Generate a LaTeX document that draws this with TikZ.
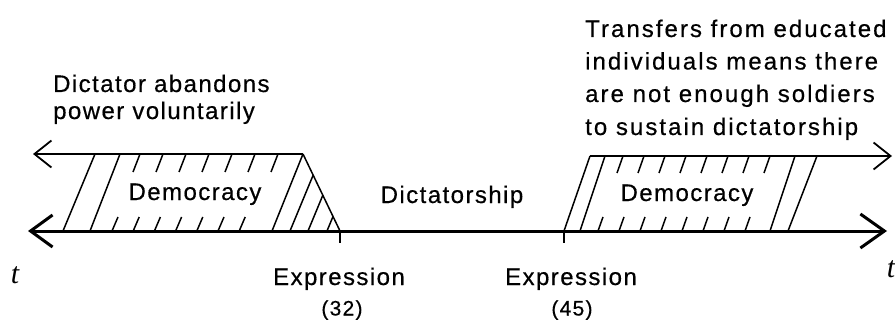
\documentclass[tikz,border=0pt]{standalone}
\usepackage{fontspec}
\setmainfont{Liberation Sans}[LetterSpace=6,FakeBold=0.5]
\newfontfamily\tfont{Liberation Serif}
\usetikzlibrary{arrows.meta}
\begin{document}
\begin{tikzpicture}[x=1pt,y=-1pt,
  lbl/.style={inner sep=0pt, font=\fontsize{24}{29}\selectfont},
  rlbl/.style={inner sep=0pt, font=\fontsize{24}{29}\selectfont\addfontfeature{LetterSpace=8.5}},
  small/.style={inner sep=0pt, font=\fontsize{21}{24}\selectfont},
  tlab/.style={inner sep=0pt, font=\fontsize{30}{32}\selectfont\tfont\itshape},
  axis/.style={line width=3pt, {Straight Barb[length=22pt,width=32pt]}-{Straight Barb[length=24pt,width=34pt]}},
  topline/.style={line width=1.8pt, -{Straight Barb[length=17pt,width=27pt]}},
  hatch/.style={line width=1.5pt},
  tickmark/.style={line width=1.6pt}]
\useasboundingbox (0,0) rectangle (895,321);

% coordinates
\coordinate (AL) at (28,231);
\coordinate (AR) at (887,231);
\coordinate (TLs) at (303,154);
\coordinate (TLe) at (33,154);
\coordinate (TRs) at (590,156);
\coordinate (TRe) at (892,156);
\coordinate (X32) at (340,231);
\coordinate (X45) at (564,231);

% hatching, left democracy
\draw[hatch] (63,231) -- (95,154);
\draw[hatch] (90,231) -- (120,154);
\draw[hatch] (272,231) -- (TLs);
\draw[hatch] (290,231) -- (313.2,175);
\draw[hatch] (308,231) -- (322.8,195.3);
\draw[hatch] (327,231) -- (333,216.5);
\foreach \x in {140,163,...,278} \draw[hatch] (\x,154) -- ++(-7,18);
\foreach \x in {118,139.2,...,246} \draw[hatch] (\x,217) -- ++(-6,14);

% hatching, right democracy
\draw[hatch] (X45) -- (TRs);
\draw[hatch] (580,231) -- (605,156);
\draw[hatch] (770,231) -- (795,156);
\draw[hatch] (788,231) -- (817,156);
\foreach \x in {623,644,...,770} \draw[hatch] (\x,156) -- ++(-6,17);
\foreach \x in {603,624,...,750} \draw[hatch] (\x,217) -- ++(-5,14);

% lines
\draw[topline] (TLs) -- (TLe);
\draw[topline] (TRs) -- (TRe);
\draw[hatch] (TLs) -- (X32);
\draw[axis] (AL) -- (AR);
\draw[tickmark] (X32) -- ++(0,12);
\draw[tickmark] (X45) -- ++(0,12);

% labels
\node[lbl, anchor=base west] (d1) at (53,92) {Dictator abandons};
\node[lbl, anchor=base west] (d2) at (53,119) {power voluntarily};
\node[rlbl, anchor=base west] (r1) at (585,37) {Transfers from educated};
\node[rlbl, anchor=base west] (r2) at (585,69.5) {individuals means there};
\node[rlbl, anchor=base west] (r3) at (585,102) {are not enough soldiers};
\node[rlbl, anchor=base west] (r4) at (585,135) {to sustain dictatorship};
\node[lbl, anchor=base] (dem1) at (195,200) {Democracy};
\node[lbl, anchor=base] (dem2) at (687,201) {Democracy};
\node[lbl, anchor=base] (dic) at (452,203) {Dictatorship};
\node[lbl, anchor=base] (ex1) at (339,285) {Expression};
\node[lbl, anchor=base] (ex2) at (571,285) {Expression};
\node[small, anchor=base] (n32) at (342,315.5) {(32)};
\node[small, anchor=base] (n45) at (572,315.5) {(45)};
\node[tlab, anchor=base] (tl) at (15,283) {t};
\node[tlab, anchor=base] (tr) at (891,277) {t};
\end{tikzpicture}
\end{document}
